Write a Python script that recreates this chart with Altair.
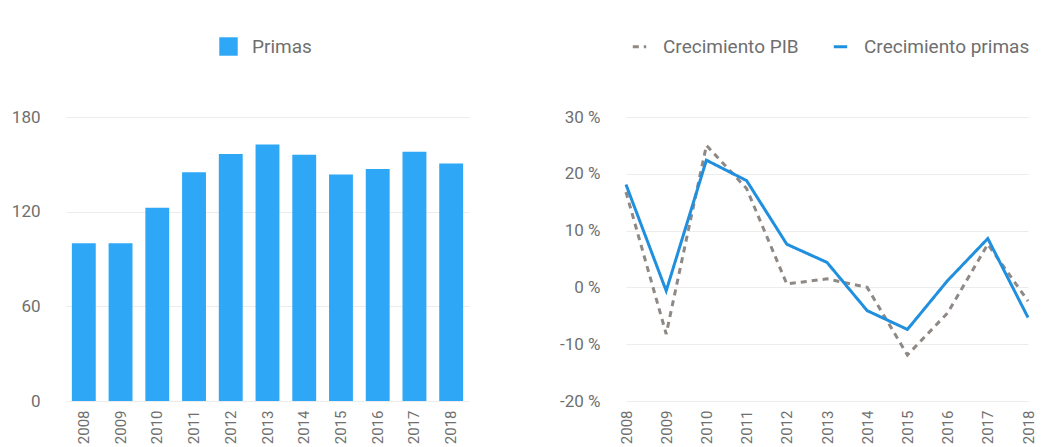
import altair as alt
import pandas as pd

years = ["2008", "2009", "2010", "2011", "2012", "2013", "2014", "2015", "2016", "2017", "2018"]
primas = [100, 100, 122.5, 145, 156.5, 162.5, 156, 143.5, 147, 158, 150.5]
crec_primas = [18.1, -0.6, 22.4, 18.8, 7.6, 4.4, -4.1, -7.4, 1.2, 8.6, -5.3]
crec_pib = [16.8, -8.2, 25.0, 17.4, 0.6, 1.5, 0.0, -11.9, -4.5, 7.6, -2.4]

FONT = "Roboto"
TXT = "#6f6f6f"

bars_df = pd.DataFrame({"year": years, "value": primas, "serie": ["Primas"] * len(years)})
lines_df = pd.concat([
    pd.DataFrame({"year": years, "value": crec_pib, "serie": "Crecimiento PIB"}),
    pd.DataFrame({"year": years, "value": crec_primas, "serie": "Crecimiento primas"}),
])

left = alt.Chart(bars_df).mark_bar().encode(
    x=alt.X("year:N", title=None,
            scale=alt.Scale(paddingInner=0.35, paddingOuter=0.16),
            axis=alt.Axis(labelAngle=270, labelFontSize=15, labelColor=TXT, labelFont=FONT,
                          ticks=False, domain=False, labelPadding=9, grid=False)),
    y=alt.Y("value:Q", title=None,
            scale=alt.Scale(domain=[0, 180]),
            axis=alt.Axis(values=[0, 60, 120, 180], labelFontSize=17, labelColor=TXT, labelFont=FONT,
                          ticks=False, domain=False, labelPadding=26, gridColor="#ececec")),
    color=alt.Color("serie:N", title=None,
                    scale=alt.Scale(domain=["Primas"], range=["#2ea7f6"]),
                    legend=alt.Legend(orient="none", legendX=153, legendY=-80,
                                      symbolType="square", symbolSize=340, symbolStrokeWidth=0,
                                      labelFontSize=19, labelColor=TXT, labelFont=FONT,
                                      labelOffset=14, labelLimit=300)),
).properties(width=403, height=284)

right = alt.Chart(lines_df).mark_line(strokeWidth=3).encode(
    x=alt.X("year:N", title=None,
            scale=alt.Scale(type="point", padding=0),
            axis=alt.Axis(labelAngle=270, labelFontSize=15, labelColor=TXT, labelFont=FONT,
                          ticks=False, domain=False, labelPadding=9, grid=False)),
    y=alt.Y("value:Q", title=None,
            scale=alt.Scale(domain=[-20, 30]),
            axis=alt.Axis(values=[-20, -10, 0, 10, 20, 30], labelExpr="datum.value + ' %'",
                          labelFontSize=17, labelColor=TXT, labelFont=FONT,
                          ticks=False, domain=False, labelPadding=26, gridColor="#ececec")),
    color=alt.Color("serie:N", title=None,
                    scale=alt.Scale(domain=["Crecimiento PIB", "Crecimiento primas"],
                                    range=["#8f8986", "#1f8fde"]),
                    legend=alt.Legend(orient="none", legendX=4, legendY=-80, direction="horizontal",
                                      columns=2, columnPadding=28,
                                      symbolType="stroke", symbolSize=180, symbolStrokeWidth=3,
                                      labelFontSize=19, labelColor=TXT, labelFont=FONT,
                                      labelOffset=14, labelLimit=300)),
    strokeDash=alt.StrokeDash("serie:N", title=None,
                              scale=alt.Scale(domain=["Crecimiento PIB", "Crecimiento primas"],
                                              range=[[6, 5], [1, 0]]),
                              legend=None),
).properties(width=402, height=284)

chart = alt.hconcat(left, right, spacing=90).resolve_scale(
    color="independent", strokeDash="independent"
).resolve_legend(color="independent").properties(
    padding={"top": 29, "left": 3, "right": 0, "bottom": 0},
    background="white",
).configure_view(strokeWidth=0, stroke="transparent")

chart.save("out.html", embed_options={"renderer": "svg", "actions": False})
